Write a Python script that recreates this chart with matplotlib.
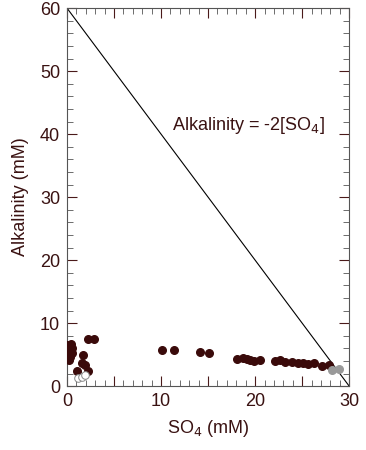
import numpy as np
from matplotlib import pyplot as plt
from matplotlib.ticker import MultipleLocator, FuncFormatter

plt.rcParams['font.family'] = ['Liberation Sans', 'DejaVu Sans']

# dark (filled) samples
so4_dark = [0.0, 0.1, 0.2, 0.3, 0.4, 0.5, 0.1, 0.3, 0.5, 0.2, 0.4,
            2.2, 2.9, 1.7, 1.6, 1.9, 1.1, 2.2,
            10.1, 11.4, 14.1, 15.1, 18.1, 18.7, 19.1, 19.5, 19.9, 20.5,
            22.1, 22.7, 23.2, 23.9, 24.6, 25.1, 25.6, 26.3, 27.1, 27.9]
alk_dark = [6.5, 6.2, 5.8, 6.4, 5.5, 6.0, 5.0, 4.6, 5.2, 4.2, 6.7,
            7.5, 7.4, 4.9, 3.6, 3.3, 2.4, 2.4,
            5.7, 5.7, 5.4, 5.2, 4.3, 4.4, 4.3, 4.1, 4.0, 4.1,
            4.0, 4.1, 3.9, 3.9, 3.7, 3.6, 3.5, 3.6, 3.2, 3.3]

# grey samples
so4_grey = [28.2, 28.9]
alk_grey = [2.5, 2.7]

# open samples
so4_open = [1.2, 1.6, 1.9]
alk_open = [1.3, 1.4, 1.7]

text_col = '#3a1212'
dot_col = '#3a0a0a'

fig = plt.figure(figsize=(3.66, 4.5), dpi=100)
ax = fig.add_axes([0.183, 0.142, 0.771, 0.840])

ax.plot([0, 30], [60, 0], color='black', lw=0.8)
ax.scatter(so4_dark, alk_dark, s=30, color=dot_col, zorder=3)
ax.scatter(so4_grey, alk_grey, s=30, color='#999999', zorder=3)
ax.scatter(so4_open, alk_open, s=30, facecolor='white', edgecolor='#888888',
           lw=0.7, zorder=3)

ax.text(11.2, 41.4, 'Alkalinity = -2[SO$_4$]', fontsize=13, color=text_col,
        va='center', ha='left')

ax.set_xlim(0, 30)
ax.set_ylim(0, 60)
ax.xaxis.set_major_locator(MultipleLocator(5))
ax.xaxis.set_major_formatter(FuncFormatter(lambda v, p: '%d' % v if v % 10 == 0 else ''))
ax.xaxis.set_minor_locator(MultipleLocator(1))
ax.yaxis.set_major_locator(MultipleLocator(10))
ax.yaxis.set_minor_locator(MultipleLocator(2))
ax.tick_params(which='both', direction='in', top=True, right=True,
               colors='#555555', labelcolor=text_col, labelsize=13)
ax.tick_params(which='major', length=7, color='#4a1a1a', pad=5)
ax.tick_params(which='minor', length=4)
for s in ax.spines.values():
    s.set_color('#555555')
    s.set_linewidth(0.8)

ax.set_xlabel('SO$_4$ (mM)', fontsize=13, color=text_col, labelpad=6)
ax.set_ylabel('Alkalinity (mM)', fontsize=13, color=text_col, labelpad=8)

plt.savefig('out.png', dpi=100)
